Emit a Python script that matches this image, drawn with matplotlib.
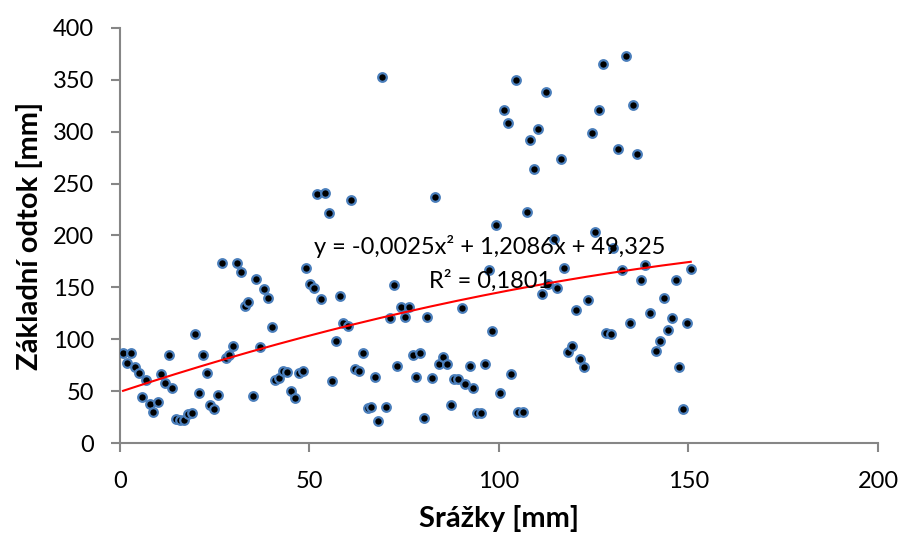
import matplotlib
matplotlib.use("Agg")
import matplotlib.pyplot as plt
import numpy as np

# ─────────────────────────────────────────────
# Data
# ─────────────────────────────────────────────
srazky = [
    0.8, 2.9, 1.8, 3.9, 4.9, 6.9, 5.8, 7.8, 8.8, 9.9, 10.8, 11.8, 12.8, 13.8,
    14.9, 15.9, 16.8, 17.9, 18.9, 19.9, 20.8, 21.9, 22.9, 23.8, 24.9, 25.9,
    27.0, 27.9, 28.8, 29.9, 30.9, 31.9, 32.9, 33.9, 35.0, 35.9, 37.0, 37.9,
    39.0, 40.1, 41.0, 42.0, 42.9, 44.1, 45.1, 46.1, 47.1, 48.2, 49.0, 50.2,
    51.1, 53.1, 56.0, 57.1, 58.0, 58.9, 60.2, 62.0, 63.1, 64.2, 65.4, 66.2,
    67.3, 68.2, 70.2, 71.2, 72.2, 73.2, 74.2, 75.2, 76.3, 77.3, 78.0,
    69.1, 52.0, 54.2, 55.1, 61.0,
    79.2, 80.2, 81.1, 82.2, 84.1, 85.2, 86.2, 87.3, 88.0, 89.2, 90.2, 91.1,
    92.3, 93.2, 94.3, 95.3, 96.2, 97.4, 98.2, 100.3, 103.2, 105.1, 106.4,
    111.3, 113.0, 115.3, 117.2,
    104.4, 112.3, 101.4, 102.3, 110.2, 108.2, 116.4, 109.3, 83.1, 107.3,
    99.3, 114.4,
    133.4, 127.4, 126.5, 135.4, 124.5, 131.4, 136.5, 125.4, 130.2,
    120.2, 123.4, 118.2, 119.3, 121.4, 122.3, 128.3, 129.5, 132.5, 134.5,
    137.4, 138.4, 139.8, 141.5, 142.5, 143.5, 144.5, 145.6, 146.6, 147.4,
    148.5, 149.5, 150.6,
]
odtok = [
    86.4, 87.0, 77.4, 73.5, 67.7, 60.7, 44.6, 37.6, 30.2, 39.2, 66.2, 58.1,
    84.5, 52.7, 23.4, 22.2, 22.5, 28.3, 28.9, 104.7, 48.2, 84.5, 67.4, 36.3,
    33.1, 46.5, 173.4, 82.2, 84.5, 93.7, 173.1, 164.4, 131.7, 135.5, 45.5,
    157.7, 92.8, 148.0,
    139.4, 111.4, 60.7, 62.3, 69.7, 68.4, 50.1, 43.0, 67.4, 69.7, 168.3,
    153.3, 149.0, 138.7, 60.0, 98.4, 141.4, 115.9, 112.4, 70.9, 69.4, 87.0,
    33.7, 34.4, 63.3, 20.9, 34.4, 120.7, 152.7, 74.0, 130.8, 121.1, 130.8,
    84.5, 63.6,
    352.3, 239.7, 240.5, 221.9, 234.4,
    87.0, 24.4, 121.5, 62.6, 75.8, 83.1, 76.1, 36.3, 61.7, 61.7, 129.8, 57.1,
    74.5, 52.7, 29.2, 29.2, 76.1, 167.0, 107.9, 48.5, 66.2, 30.2, 30.2,
    143.2, 153.2, 149.0, 168.9,
    349.4, 338.2, 321.1, 308.0, 302.8, 291.6, 273.9, 264.3, 236.7, 222.5,
    210.0, 196.8,
    373.1, 365.1, 320.8, 325.6, 298.7, 283.6, 278.1, 203.0, 187.6,
    128.1, 137.8, 88.0, 93.2, 81.2, 73.5, 106.3, 104.7, 166.9, 115.6,
    157.3, 171.8, 125.5, 88.9, 98.4, 139.7, 109.2, 120.4, 157.3, 73.2,
    33.1, 115.3, 167.6,
]

# polynomial trendline coefficients shown on the chart (a*x^2 + b*x + c)
trend_coef = [-0.0025, 1.2086, 49.325]
trend_label = "y = -0,0025x\u00b2 + 1,2086x + 49,325"
r2_label = "R\u00b2 = 0,1801"

x_ticks = [0, 50, 100, 150, 200]
y_ticks = [0, 50, 100, 150, 200, 250, 300, 350, 400]

# ─────────────────────────────────────────────
# Plot
# ─────────────────────────────────────────────
plt.rcParams["font.family"] = ["Lato", "DejaVu Sans"]
grey = "#868686"

fig = plt.figure(figsize=(9.07, 5.37), dpi=100)
ax = fig.add_axes([0.1323, 0.175, 0.8357, 0.773])

ax.plot(srazky, odtok, linestyle="none", marker="o", markersize=6.2,
        markerfacecolor="black", markeredgecolor="#4A7EBB",
        markeredgewidth=1.6, zorder=3)

xs = np.linspace(min(srazky), max(srazky), 200)
ax.plot(xs, np.polyval(trend_coef, xs), color="#FF0000", linewidth=1.5, zorder=4)

ax.text(97.6, 189, trend_label, ha="center", va="center", fontsize=17, zorder=5)
ax.text(97.6, 156, r2_label, ha="center", va="center", fontsize=17, zorder=5)

ax.set_xlim(0, 200)
ax.set_ylim(0, 400)
ax.set_xticks(x_ticks)
ax.set_yticks(y_ticks)

for side in ["top", "right"]:
    ax.spines[side].set_visible(False)
for side in ["left", "bottom"]:
    ax.spines[side].set_color(grey)
    ax.spines[side].set_linewidth(1.5)
    ax.spines[side].set_zorder(1)

ax.tick_params(axis="both", color=grey, width=1.5, length=6.5,
               labelsize=17, labelcolor="black")
ax.tick_params(axis="y", pad=12)
ax.tick_params(axis="x", pad=14)

ax.set_xlabel("Srážky [mm]", fontsize=21, fontweight="bold", labelpad=9)
ax.set_ylabel("Základní odtok [mm]", fontsize=21, fontweight="bold", labelpad=7)

plt.savefig("out.png", dpi=100)
plt.close()
